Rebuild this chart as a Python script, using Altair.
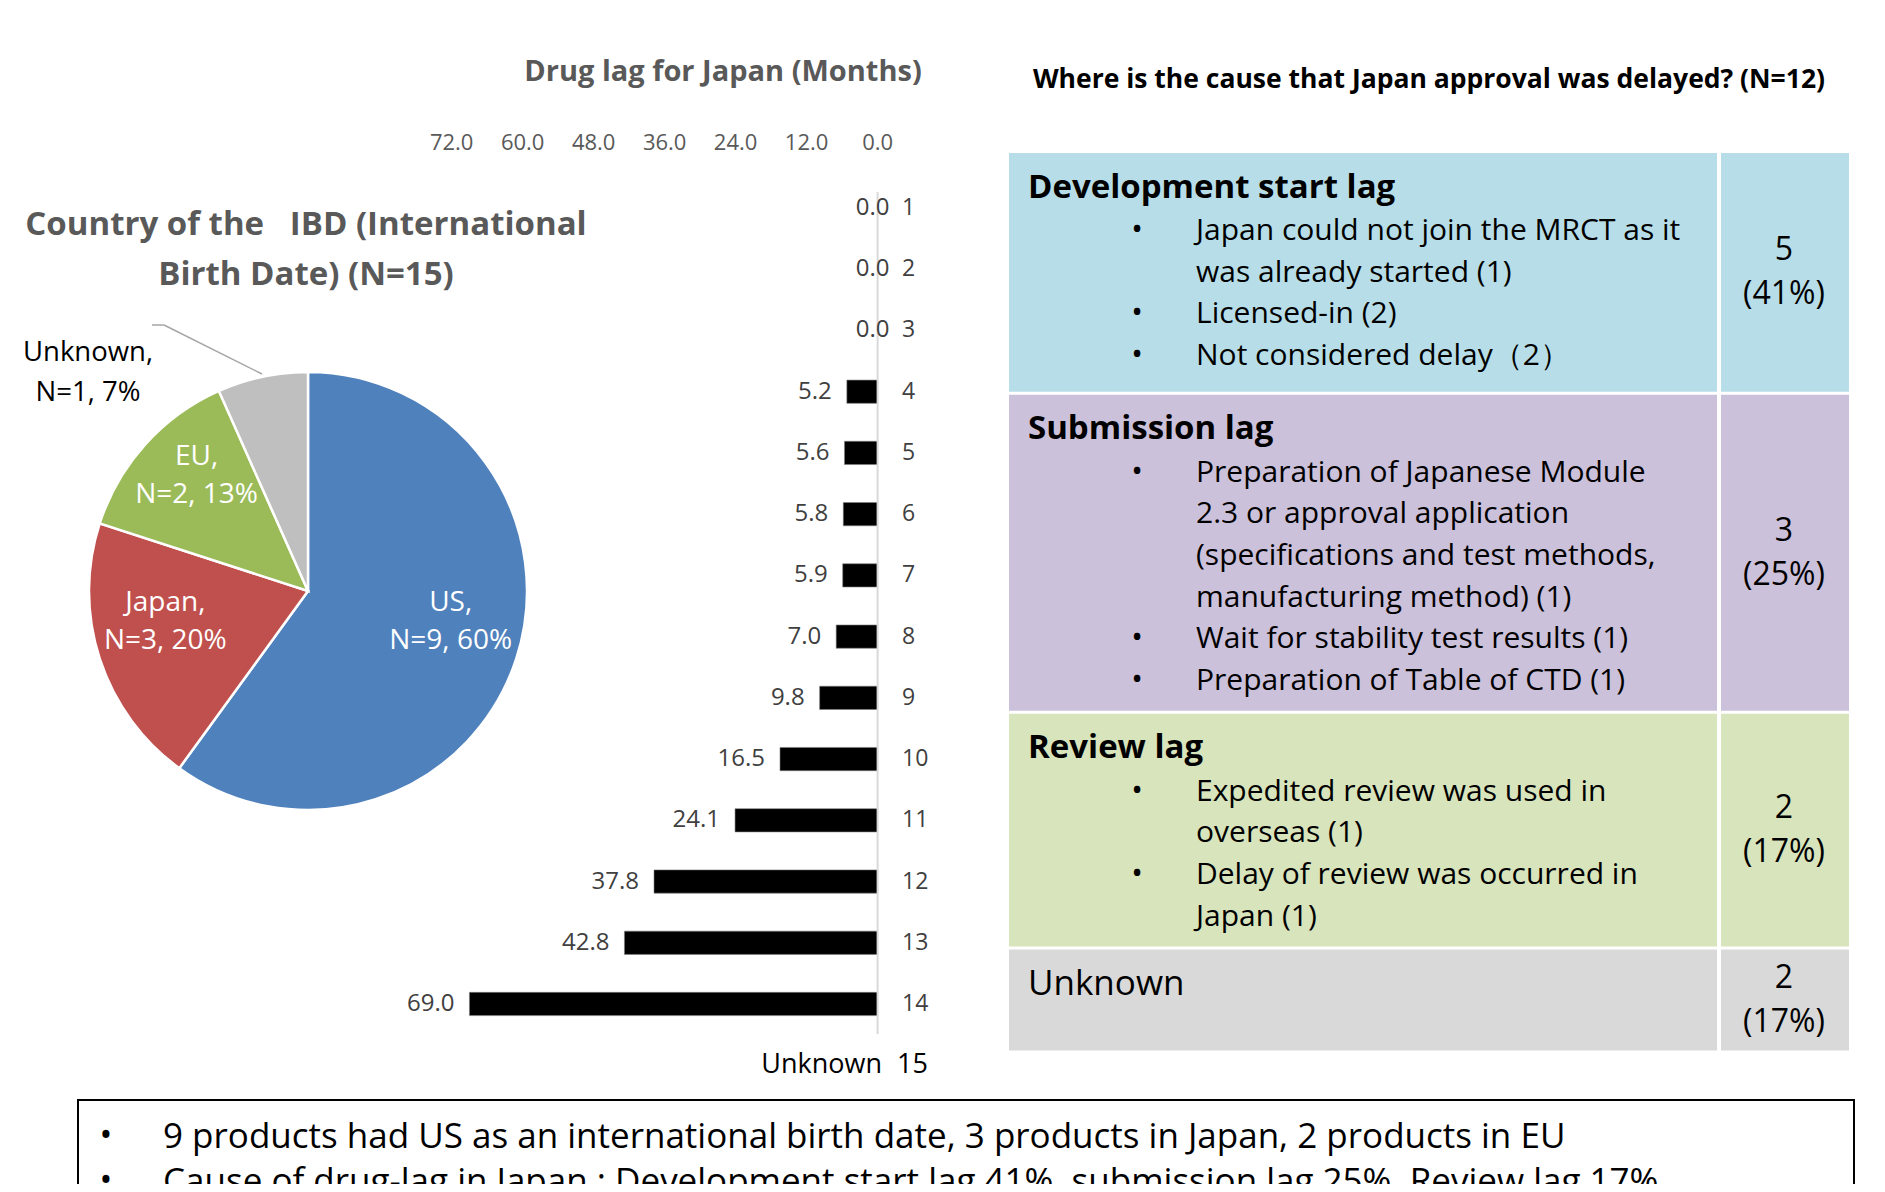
import altair as alt
import pandas as pd

OFF = 8
W, H = 1869, 1176
FONT = "Open Sans"

# ---------------- data ----------------
pie_country = ["US", "Japan", "EU", "Unknown"]
pie_n = [9, 3, 2, 1]
pie_pct = [60, 20, 13, 7]
pie_color = ["#4F81BD", "#C0504D", "#9BBB59", "#BFBFBF"]

lag_product = [str(i) for i in range(1, 16)]
lag_month = [0.0, 0.0, 0.0, 5.2, 5.6, 5.8, 5.9, 7.0, 9.8, 16.5, 24.1, 37.8, 42.8, 69.0, None]
lag_tick = [72.0, 60.0, 48.0, 36.0, 24.0, 12.0, 0.0]

cause_name = ["Development start lag", "Submission lag", "Review lag", "Unknown"]
cause_n = [5, 3, 2, 2]
cause_pct = [41, 25, 17, 17]
cause_fill = ["#B7DEE8", "#CCC1DA", "#D8E4BC", "#D9D9D9"]
cause_items = [
    [["Japan could not join the MRCT as it", "was already started (1)"],
     ["Licensed-in (2)"],
     ["Not considered delay\uff082\uff09"]],
    [["Preparation of Japanese Module", "2.3 or approval application",
      "(specifications and test methods,", "manufacturing method) (1)"],
     ["Wait for stability test results (1)"],
     ["Preparation of Table of CTD (1)"]],
    [["Expedited review was used in", "overseas (1)"],
     ["Delay of review was occurred in", "Japan (1)"]],
    [],
]

summary_lines = [
    "9 products had US as an international birth date, 3 products in Japan, 2 products in EU",
    "Cause of drug-lag in Japan : Development start lag 41%, submission lag 25%, Review lag 17%",
]


def px(v):
    return v - OFF


XID = alt.Scale(domain=[0, W], range=[0, W], nice=False, zero=False)
YID = alt.Scale(domain=[0, H], range=[0, H], nice=False, zero=False)

# ---------------- bar chart (drug lag) ----------------
bar_df = pd.DataFrame({"p": lag_product, "m": lag_month})
tick_df = pd.DataFrame({"t": lag_tick})
ROW1 = px(208)
STEP = 61.23
xs = alt.Scale(domain=[0, 72], range=[px(877.6), px(451.7)], nice=False)
ys = alt.Scale(domain=lag_product, range=[ROW1 - STEP / 2, ROW1 - STEP / 2 + 15 * STEP],
               paddingInner=0.62, paddingOuter=0.31)

bar_title = alt.Chart(pd.DataFrame({"t": ["Drug lag for Japan (Months)"]})).mark_text(
    font=FONT, fontSize=29, fontWeight="bold", color="#595959", align="center", baseline="middle"
).encode(x=alt.value(px(723)), y=alt.value(px(72)), text="t:N")

ticks = alt.Chart(tick_df).mark_text(
    font=FONT, fontSize=22, color="#595959", align="center", baseline="middle"
).encode(x=alt.X("t:Q", scale=xs, axis=None), y=alt.value(px(143)),
         text=alt.Text("t:Q", format=".1f"))

axis_rule = alt.Chart(pd.DataFrame({"v": [0]})).mark_rule(color="#D9D9D9", strokeWidth=2).encode(
    x=alt.X("v:Q", scale=xs, axis=None), y=alt.value(px(192)), y2=alt.value(px(1034)))

bars = alt.Chart(bar_df).transform_filter("isValid(datum.m) && datum.m > 0").mark_bar(
    color="black", stroke="#7F7F7F", strokeWidth=0.6
).encode(x=alt.X("m:Q", scale=xs, axis=None), y=alt.Y("p:N", scale=ys, axis=None))

vals_nz = alt.Chart(bar_df).transform_filter("isValid(datum.m) && datum.m > 0").mark_text(
    font=FONT, fontSize=24, color="#404040", align="right", baseline="middle", dx=-15
).encode(x=alt.X("m:Q", scale=xs, axis=None), y=alt.Y("p:N", scale=ys, axis=None),
         text=alt.Text("m:Q", format=".1f"))

vals_z = alt.Chart(bar_df).transform_filter("isValid(datum.m) && datum.m == 0").mark_text(
    font=FONT, fontSize=24, color="#404040", align="center", baseline="middle", dx=-5
).encode(x=alt.X("m:Q", scale=xs, axis=None), y=alt.Y("p:N", scale=ys, axis=None),
         text=alt.Text("m:Q", format=".1f"))

row_lab = alt.Chart(bar_df).transform_filter("isValid(datum.m)").mark_text(
    font=FONT, fontSize=23, color="#404040", align="left", baseline="middle"
).encode(x=alt.value(px(902)), y=alt.Y("p:N", scale=ys, axis=None), text="p:N")

row_unknown = alt.Chart(bar_df).transform_filter("!isValid(datum.m)").mark_text(
    font=FONT, fontSize=27, color="black", align="left", baseline="middle"
).encode(x=alt.value(px(897)), y=alt.Y("p:N", scale=ys, axis=None), text="p:N")

val_unknown = alt.Chart(bar_df).transform_filter("!isValid(datum.m)").transform_calculate(
    t="'Unknown'").mark_text(
    font=FONT, fontSize=27, color="black", align="right", baseline="middle"
).encode(x=alt.value(px(882)), y=alt.Y("p:N", scale=ys, axis=None), text="t:N")

# ---------------- pie chart ----------------
pie_df = pd.DataFrame({
    "country": pie_country,
    "n": pie_n,
    "pct": pie_pct,
    "k": list(range(len(pie_country))),
})
pie_df["label"] = [f"{c},\nN={n}, {p}%" for c, n, p in zip(pie_country, pie_n, pie_pct)]
pie_df["inlabel"] = [l if c != "Unknown" else "" for c, l in zip(pie_country, pie_df["label"])]

CX, CY = px(308), px(591)

pie_title = alt.Chart(pd.DataFrame({"t": ["Country of the\u00a0\u00a0\u00a0IBD (International\nBirth Date) (N=15)"]})).mark_text(
    font=FONT, fontSize=33, fontWeight="bold", color="#595959", align="center", baseline="middle",
    lineBreak="\n", lineHeight=50
).encode(x=alt.value(px(306)), y=alt.value(px(225)), text="t:N")

arcs = alt.Chart(pie_df).mark_arc(radius=219, stroke="white", strokeWidth=2.5).encode(
    theta=alt.Theta("n:Q", stack=True),
    color=alt.Color("country:N", scale=alt.Scale(domain=pie_country, range=pie_color), legend=None),
    order=alt.Order("k:Q"),
    x=alt.value(CX), y=alt.value(CY),
)

pie_text = alt.Chart(pie_df).mark_text(
    radius=150, font=FONT, fontSize=28, color="white", align="center", baseline="middle",
    lineBreak="\n", lineHeight=38, dy=-34
).encode(
    theta=alt.Theta("n:Q", stack=True),
    order=alt.Order("k:Q"),
    text="inlabel:N",
    x=alt.value(CX), y=alt.value(CY),
)

out_label = alt.Chart(pie_df).transform_filter("datum.country == 'Unknown'").mark_text(
    font=FONT, fontSize=27.5, color="black", align="center", baseline="middle",
    lineBreak="\n", lineHeight=40
).encode(x=alt.value(px(88)), y=alt.value(px(353)), text="label:N")

leader1 = alt.Chart(pie_df).transform_filter("datum.country == 'Unknown'").mark_rule(
    color="#A6A6A6", strokeWidth=1.5).encode(
    x=alt.value(px(152)), x2=alt.value(px(164)), y=alt.value(px(325)), y2=alt.value(px(325)))
leader2 = alt.Chart(pie_df).transform_filter("datum.country == 'Unknown'").mark_rule(
    color="#A6A6A6", strokeWidth=1.5).encode(
    x=alt.value(px(164)), x2=alt.value(px(262)), y=alt.value(px(325)), y2=alt.value(px(374)))

# ---------------- cause table ----------------
LH = 41.6
rows, texts = [], []
y = px(153)
for name, n, p, items in zip(cause_name, cause_n, cause_pct, cause_items):
    head_y = y + 34.5
    kind = "head" if items else "head_plain"
    texts.append({"x": px(1028), "y": head_y, "t": name, "kind": kind})
    ly = head_y + 43.5
    last = ""
    for item in items:
        for j, line in enumerate(item):
            if j == 0:
                texts.append({"x": px(1137), "y": ly, "t": "\u2022", "kind": "bullet"})
            texts.append({"x": px(1196), "y": ly, "t": line, "kind": "body"})
            last = line
            ly += LH
    # full-width (CJK) characters make the last line a little taller
    extra = 6 if any(ord(ch) > 0x3000 for ch in last) else 0
    bottom = (ly - LH + 30 + extra) if items else (y + 101)
    rows.append({"name": name, "y0": y, "y1": bottom})
    mid = (y + bottom) / 2
    texts.append({"x": px(1784), "y": mid - 22, "t": str(n), "kind": "count"})
    texts.append({"x": px(1784), "y": mid + 22, "t": f"({p}%)", "kind": "count"})
    y = bottom + 3

rows_df = pd.DataFrame(rows)
rows_df["c1x0"] = px(1009)
rows_df["c1x1"] = px(1717)
rows_df["c2x0"] = px(1721)
rows_df["c2x1"] = px(1849)
text_df = pd.DataFrame(texts)

fill_scale = alt.Scale(domain=cause_name, range=cause_fill)
cells1 = alt.Chart(rows_df).mark_rect().encode(
    x=alt.X("c1x0:Q", scale=XID, axis=None), x2="c1x1:Q",
    y=alt.Y("y0:Q", scale=YID, axis=None), y2="y1:Q",
    color=alt.Color("name:N", scale=fill_scale, legend=None))
cells2 = alt.Chart(rows_df).mark_rect().encode(
    x=alt.X("c2x0:Q", scale=XID, axis=None), x2="c2x1:Q",
    y=alt.Y("y0:Q", scale=YID, axis=None), y2="y1:Q",
    color=alt.Color("name:N", scale=fill_scale, legend=None))

table_title = alt.Chart(pd.DataFrame({"t": ["Where is the cause that Japan approval was delayed? (N=12)"]})).mark_text(
    font=FONT, fontSize=26.5, fontWeight="bold", color="black", align="center", baseline="middle"
).encode(x=alt.value(px(1429)), y=alt.value(px(80)), text="t:N")


def table_text(kind, size, weight="normal", align="left"):
    return alt.Chart(text_df).transform_filter(f"datum.kind == '{kind}'").mark_text(
        font=FONT, fontSize=size, fontWeight=weight, color="black", align=align, baseline="middle"
    ).encode(x=alt.X("x:Q", scale=XID, axis=None), y=alt.Y("y:Q", scale=YID, axis=None), text="t:N")


t_head = table_text("head", 33, "bold")
t_head2 = table_text("head_plain", 35)
t_bullet = table_text("bullet", 31, align="center")
t_body = table_text("body", 30)
t_count = table_text("count", 32, align="center")

# ---------------- summary box ----------------
sum_df = pd.DataFrame({"t": summary_lines, "k": list(range(len(summary_lines)))})
sum_df["y"] = px(1137) + sum_df["k"] * 45
sum_df["bx"] = px(106)
sum_df["tx"] = px(163)
sum_df["b"] = "\u2022"

box = alt.Chart(pd.DataFrame({"a": [0]})).mark_rect(fill=None, stroke="black", strokeWidth=2).encode(
    x=alt.value(px(78)), x2=alt.value(px(1854)), y=alt.value(px(1100)), y2=alt.value(px(1400)))

sum_text = alt.Chart(sum_df).mark_text(
    font=FONT, fontSize=35, color="black", align="left", baseline="middle"
).encode(x=alt.X("tx:Q", scale=XID, axis=None), y=alt.Y("y:Q", scale=YID, axis=None), text="t:N")
sum_bullet = alt.Chart(sum_df).mark_text(
    font=FONT, fontSize=34, color="black", align="center", baseline="middle"
).encode(x=alt.X("bx:Q", scale=XID, axis=None), y=alt.Y("y:Q", scale=YID, axis=None), text="b:N")

layers = [
    cells1, cells2, table_title, t_head, t_head2, t_bullet, t_body, t_count,
    bar_title, ticks, bars, axis_rule, vals_nz, vals_z, row_lab, row_unknown, val_unknown,
    pie_title, arcs, pie_text, leader1, leader2, out_label,
    box, sum_text, sum_bullet,
]

chart = alt.layer(*layers).resolve_scale(
    x="independent", y="independent", color="independent", theta="independent"
).properties(
    width=W, height=H, autosize=alt.AutoSizeParams(type="none"), padding=0, background="white"
).configure_view(stroke=None)

chart.save("out.html", embed_options={"renderer": "svg", "actions": False})
